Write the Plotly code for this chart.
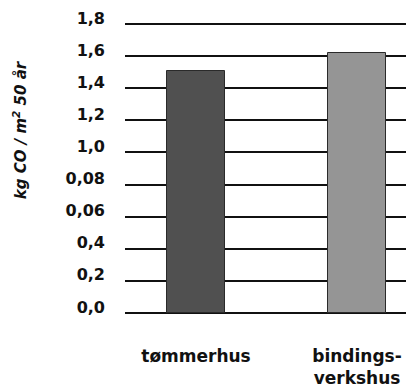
import plotly.graph_objects as go

categories = ["tømmerhus", "bindings-<br>verkshus"]
values = [1.51, 1.62]
bar_colors = ["#505050", "#959595"]
tick_vals = [0.0, 0.2, 0.4, 0.6, 0.8, 1.0, 1.2, 1.4, 1.6, 1.8]
tick_text = ["0,0", "0,2", "0,4", "0,06", "0,08", "1,0", "1,2", "1,4", "1,6", "1,8"]
y_title = "kg CO / m<sup>2</sup> 50 år"

fig = go.Figure()
fig.add_trace(go.Bar(
    x=[0, 1], y=values, width=0.36,
    marker=dict(color=bar_colors, line=dict(color="#2a2a2a", width=1)),
    hoverinfo="skip",
))

fig.update_layout(
    width=406, height=379,
    margin=dict(l=117, r=0, t=8, b=66),
    paper_bgcolor="white", plot_bgcolor="white",
    showlegend=False,
    bargap=0,
)
fig.update_xaxes(
    range=[-0.441, 1.354],
    tickvals=[0, 1], ticktext=categories,
    showgrid=False, zeroline=False, showline=False, ticks="",
    tickfont=dict(family="DejaVu Sans", size=17, color="#111111", weight="bold"),
    ticklabelstandoff=23, automargin=False,
)
fig.update_yaxes(
    range=[-0.05, 1.85],
    tickvals=tick_vals, ticktext=tick_text,
    showgrid=True, gridcolor="#111111", gridwidth=1.6,
    zeroline=False, showline=False, ticks="",
    tickfont=dict(family="DejaVu Sans", size=16, color="#111111", weight="bold"),
    ticklabelstandoff=19, ticklabelshift=-6, automargin=False,
)
fig.add_annotation(
    text=y_title, xref="paper", yref="paper",
    x=-0.363, y=0.626, showarrow=False, textangle=-90,
    xanchor="center", yanchor="middle",
    font=dict(family="DejaVu Sans", size=15, color="#111111", weight="bold", style="italic"),
)
fig.write_html("out.html")
